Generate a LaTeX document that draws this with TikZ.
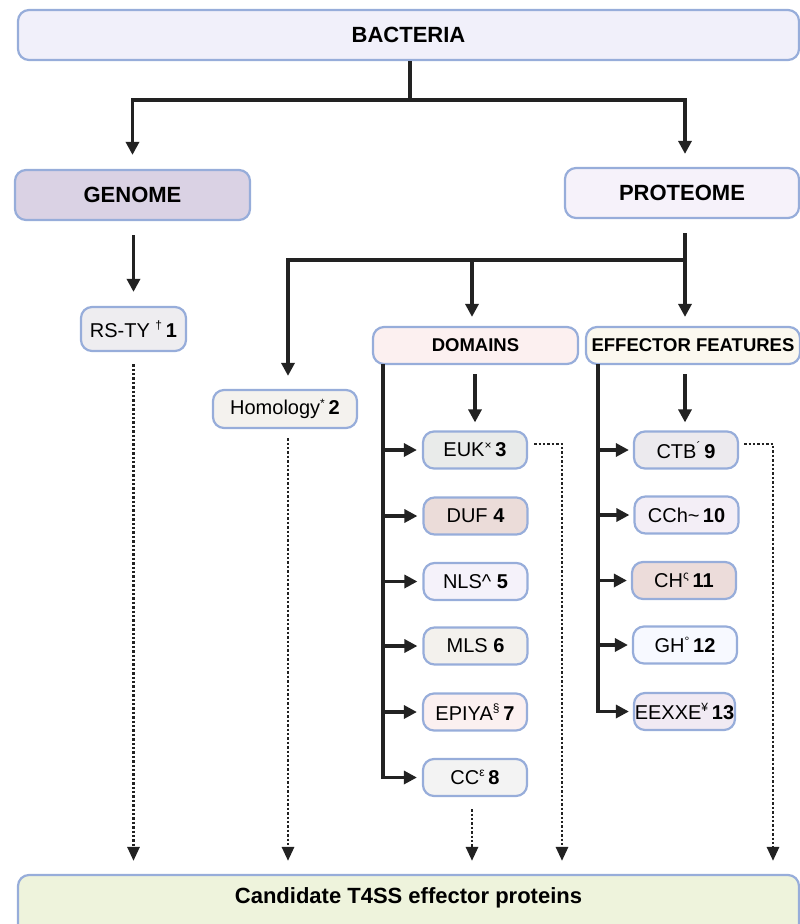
\documentclass[tikz,border=0pt]{standalone}
\usepackage{fontspec}
\setmainfont{Liberation Sans}
\usetikzlibrary{arrows.meta,calc}
\definecolor{cBorder}{HTML}{97ADDA}
\definecolor{cLine}{HTML}{222222}
\definecolor{cBac}{HTML}{F1F0FA}
\definecolor{cGen}{HTML}{DAD2E4}
\definecolor{cPro}{HTML}{F6F2FA}
\definecolor{cRs}{HTML}{EEEDF0}
\definecolor{cHom}{HTML}{F4F2EE}
\definecolor{cDom}{HTML}{FCF0F0}
\definecolor{cEff}{HTML}{FBF8EF}
\definecolor{cEuk}{HTML}{E9EBEA}
\definecolor{cDuf}{HTML}{EBDCD9}
\definecolor{cNls}{HTML}{F5F2FA}
\definecolor{cMls}{HTML}{F3F1ED}
\definecolor{cEpi}{HTML}{FBF0F0}
\definecolor{cCc}{HTML}{F3F3F3}
\definecolor{cCtb}{HTML}{ECEAEE}
\definecolor{cCch}{HTML}{F3EEF6}
\definecolor{cCh}{HTML}{ECDCDA}
\definecolor{cGh}{HTML}{F7F9FF}
\definecolor{cEex}{HTML}{F1EAF3}
\definecolor{cCand}{HTML}{EEF3DC}
\tikzset{
  box/.style={rectangle, rounded corners=11pt, draw=cBorder, line width=2.2pt, inner sep=0pt,
    font=\fontsize{20}{24}\selectfont},
  hdr/.style={box, font=\bfseries\fontsize{22}{26}\selectfont},
  sub/.style={box, font=\bfseries\fontsize{18.5}{22}\selectfont},
  lbl/.style={box, minimum width=104pt, minimum height=37pt},
  ln/.style={draw=cLine, line width=3.2pt},
  arr/.style={ln, -{Triangle[length=13pt,width=13pt]}},
  dotarr/.style={draw=cLine, line width=2.8pt, dash pattern=on 2.4pt off 2pt,
    -{Triangle[length=14pt,width=12pt]}},
}
\newcommand{\sps}[1]{\textsuperscript{\fontsize{12}{12}\selectfont #1}}
\begin{document}
\begin{tikzpicture}[x=1pt,y=-1pt]
\useasboundingbox (0,0) rectangle (800,924);
\clip (0,0) rectangle (800,924);
% top level
\node[hdr, fill=cBac, minimum width=781pt, minimum height=50pt] (bac) at (408.5,35) {BACTERIA};
\node[hdr, fill=cGen, minimum width=235pt, minimum height=50pt] (gen) at (132.5,195) {GENOME};
\node[hdr, fill=cPro, minimum width=234pt, minimum height=50pt] (pro) at (682,193) {PROTEOME};
\node[lbl, fill=cRs, minimum width=105pt, minimum height=44pt] (rs) at (133.5,329) {RS-TY \sps{†}\,\textbf{1}};
\node[lbl, fill=cHom, minimum width=144pt, minimum height=38pt] (hom) at (285,409) {Homology\sps{*}\,\textbf{2}};
\node[sub, fill=cDom, minimum width=205pt, minimum height=37pt] (dom) at (475.5,345.5) {DOMAINS};
\node[sub, fill=cEff, minimum width=214pt, minimum height=37pt] (eff) at (693,345.5) {EFFECTOR FEATURES};
% domains column
\node[lbl, fill=cEuk] (euk) at (475,450) {EUK\sps{×}\,\textbf{3}};
\node[lbl, fill=cDuf] (duf) at (475.5,516) {DUF \textbf{4}};
\node[lbl, fill=cNls] (nls) at (475.5,581.5) {NLS\textasciicircum\ \textbf{5}};
\node[lbl, fill=cMls] (mls) at (475.5,646) {MLS \textbf{6}};
\node[lbl, fill=cEpi] (epi) at (475,712) {EPIYA\sps{§}\,\textbf{7}};
\node[lbl, fill=cCc] (cc) at (475,777.5) {CC\sps{ε}\,\textbf{8}};
% effector features column
\node[lbl, fill=cCtb] (ctb) at (686,450) {CTB\sps{´}\,\textbf{9}};
\node[lbl, fill=cCch] (cch) at (686.5,515) {CCh\textasciitilde\,\textbf{10}};
\node[lbl, fill=cCh] (ch) at (684,580.5) {CH\sps{ς}\,\textbf{11}};
\node[lbl, fill=cGh] (gh) at (685,645) {GH\sps{°}\,\textbf{12}};
\node[lbl, fill=cEex, minimum width=101pt] (eex) at (684.5,711.5) {EEXXE\sps{¥}\,\textbf{13}};
% bottom
\node[hdr, fill=cCand, minimum width=781pt, minimum height=62pt] (cand) at (408.5,906) {};
\node[font=\bfseries\fontsize{22}{26}\selectfont] (candt) at (408.5,898) {Candidate T4SS effector proteins};
% junction coordinates
\coordinate (j1) at (410,100);
\coordinate (j2) at (685,260);
\coordinate (dT) at (383,364);
\coordinate (eT) at (598,364);
\coordinate (dR) at (562,444);
\coordinate (eR) at (773,444);
% connectors from BACTERIA
\draw[ln] (bac.south -| j1) -- (j1);
\draw[arr, shorten >=14pt] (j1) -| (gen.north);
\draw[arr, shorten >=13pt] (j1) -| (j2 |- pro.north);
\draw[arr, shorten >=14pt] ([yshift=-14pt]gen.south -| rs) -- (rs.north);
% connectors from PROTEOME
\draw[ln] ([yshift=-14pt]pro.south -| j2) -- (j2);
\draw[arr, shorten >=13pt] (j2) -| (hom.north -| 288,0);
\draw[arr, shorten >=9pt] (j2) -| (dom.north -| 472,0);
\draw[arr, shorten >=9pt] (j2) -- (j2 |- eff.north);
% domains
\draw[arr, shorten >=8pt, shorten <=9pt] (dom.south -| euk) -- (euk.north);
\draw[arr, shorten >=5pt] (dT) |- (cc.west);
\foreach \n in {euk,duf,nls,mls,epi}
  \draw[arr, shorten >=5pt] (dT |- \n) -- (\n.west);
% effector features
\draw[arr, shorten >=8pt, shorten <=9pt] (eff.south -| j2) -- (j2 |- ctb.north);
\draw[arr, shorten >=4pt] (eT) |- (eex.west);
\foreach \n in {ctb,cch,ch,gh}
  \draw[arr, shorten >=4pt] (eT |- \n) -- (\n.west);
% dotted arrows to the candidates
\draw[dotarr, shorten <=12pt, shorten >=13pt] (rs.south) -- (rs.south |- cand.north);
\draw[dotarr, shorten <=9pt, shorten >=13pt] (hom.south -| 288,0) -- (288,0 |- cand.north);
\draw[dotarr, shorten <=12pt, shorten >=13pt] (cc.south -| 472,0) -- (472,0 |- cand.north);
\draw[dotarr, shorten >=13pt] (euk.east |- dR) ++(6,0) -| (dR |- cand.north);
\draw[dotarr, shorten >=13pt] (ctb.east |- eR) ++(5,0) -| (eR |- cand.north);
\end{tikzpicture}
\end{document}
